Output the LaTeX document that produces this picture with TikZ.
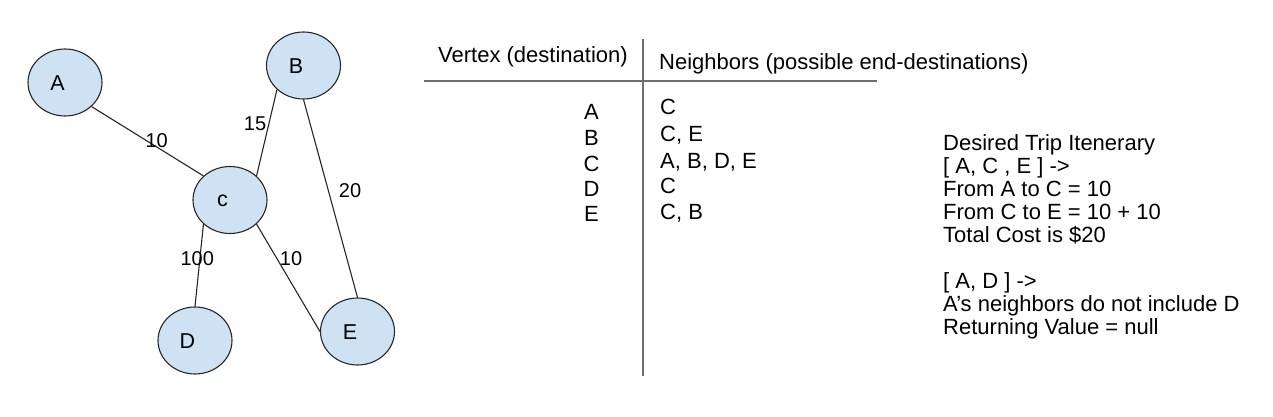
\documentclass[tikz,border=0pt]{standalone}
\usepackage{fontspec}
\setmainfont{Liberation Sans}
\usetikzlibrary{shapes.geometric}
\definecolor{nodefill}{HTML}{CFE2F3}
\definecolor{rulegray}{HTML}{6E6E6E}
\tikzset{
  vtx/.style={ellipse, draw=black!85, line width=1.1pt, fill=nodefill,
    minimum width=74pt, minimum height=67pt, inner sep=0pt},
  edge/.style={draw=black!85, line width=1.1pt},
  wlab/.style={font=\fontsize{20}{22}\selectfont, inner sep=0pt},
  txt/.style={font=\fontsize{22}{23}\selectfont, inner sep=0pt, anchor=base west},
  ctxt/.style={font=\fontsize{22}{23}\selectfont, inner sep=0pt, anchor=base},
  rule/.style={draw=rulegray, line width=1.6pt}
}
\newcommand{\vlab}[1]{{\fontsize{21.5}{23}\selectfont #1}}
\begin{document}
\begin{tikzpicture}[x=1pt,y=-1pt]
\useasboundingbox (0,0) rectangle (1273,417);
% graph nodes
\node[vtx, label={[xshift=-7.5pt,yshift=-1pt]center:\vlab{A}}] (A) at (65,82.5) {};
\node[vtx, label={[xshift=-7.5pt,yshift=-1pt]center:\vlab{B}}] (B) at (303.5,65.5) {};
\node[vtx, label={[xshift=-7.5pt,yshift=-1pt]center:\vlab{c}}] (C) at (230,200) {};
\node[vtx, label={[xshift=-7.5pt,yshift=-1pt]center:\vlab{D}}] (D) at (195,340.5) {};
\node[vtx, label={[xshift=-7.5pt,yshift=-1pt]center:\vlab{E}}] (E) at (357.5,331.5) {};
% edges
\draw[edge] (A.south east) -- (C.north west);
\draw[edge] (B.south west) -- (C.north east);
\draw[edge] (B.south) -- (E.north);
\draw[edge] (C.south west) -- (D.north);
\draw[edge] (C.south east) -- (E.west);
% edge labels
\node[wlab] (w1) at (156.7,141) {10};
\node[wlab] (w2) at (255,123.5) {15};
\node[wlab] (w3) at (350,191) {20};
\node[wlab] (w4) at (197.3,258.5) {100};
\node[wlab] (w5) at (291,258.5) {10};
% table rules
\coordinate (vt) at (643,39);
\coordinate (vb) at (643,376);
\coordinate (hl) at (424,81);
\coordinate (hr) at (877,81);
\draw[rule] (vt) -- (vb);
\draw[rule, line width=1.4pt] (hl) -- (hr);
% headers
\node[txt] (h1) at (438,62.5) {Vertex (destination)};
\node[txt] (h2) at (659,69.5) {Neighbors (possible end-destinations)};
% left column
\node[ctxt] (l1) at (591.5,119.5) {A};
\node[ctxt] (l2) at (591.5,146) {B};
\node[ctxt] (l3) at (591.5,171) {C};
\node[ctxt] (l4) at (591.5,196) {D};
\node[ctxt] (l5) at (591.5,221.5) {E};
% right column
\node[txt] (r1) at (660,114.5) {C};
\node[txt] (r2) at (660,141.5) {C, E};
\node[txt] (r3) at (660,168) {A, B, D, E};
\node[txt] (r4) at (660,193) {C};
\node[txt] (r5) at (660,219.5) {C, B};
% notes
\node[txt] (n1) at (943,150.5) {Desired Trip Itenerary};
\node[txt] (n2) at (943,173.5) {[ A, C , E ] ->};
\node[txt] (n3) at (943,196.5) {From A to C = 10};
\node[txt] (n4) at (943,219.5) {From C to E = 10 + 10};
\node[txt] (n5) at (943,242.5) {Total Cost is \$20};
\node[txt] (n6) at (943,288.5) {[ A, D ] ->};
\node[txt] (n7) at (943,311.5) {A’s neighbors do not include D};
\node[txt] (n8) at (943,334.5) {Returning Value = null};
\end{tikzpicture}
\end{document}
